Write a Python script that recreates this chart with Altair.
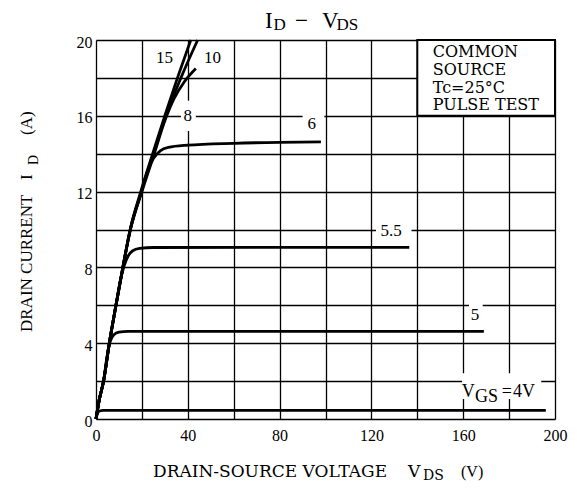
import altair as alt
import pandas as pd

SERIF = "Liberation Serif"
WIDE = "DejaVu Serif"

# ---- curve data (VDS in V, ID in A) per gate voltage ----
VGS = ["15", "10", "8", "6", "5.5", "5", "4"]
VDS_15 = [0, 1.4, 3.3, 5.8, 8.7, 11.7, 14.9, 19.5, 24.7, 30.0, 35.5, 41.3]
ID_15 = [0, 1.0, 2, 4, 6, 8, 10, 12, 14, 16, 18, 20]
VDS_10 = [0, 1.4, 3.3, 5.8, 8.7, 11.7, 14.9, 19.8, 25.1, 30.5, 37.0, 44.3]
ID_10 = [0, 1.0, 2, 4, 6, 8, 10, 12, 14, 16, 18, 20]
VDS_8 = [0, 1.4, 3.3, 5.8, 8.7, 11.7, 15.0, 20.0, 25.4, 29.6, 34.0, 38.5, 43.5]
ID_8 = [0, 1.0, 2, 4, 6, 8, 10, 12, 14, 15.6, 16.9, 17.8, 18.5]
VDS_6 = [0, 1.4, 3.3, 5.8, 8.7, 11.7, 15.0, 19.8, 22.5, 25.0, 28.0, 31.5, 40, 60, 80, 98]
ID_6 = [0, 1.0, 2, 4, 6, 8, 10, 12, 13.1, 13.75, 14.15, 14.33, 14.45, 14.55, 14.6, 14.62]
VDS_55 = [0, 1.4, 3.3, 5.8, 8.7, 10.6, 12.3, 14.0, 16.0, 19.0, 25.0, 136.5]
ID_55 = [0, 1.0, 2, 4, 6, 7.3, 8.1, 8.6, 8.88, 9.0, 9.05, 9.06]
VDS_5 = [0, 1.4, 3.3, 4.8, 6.2, 7.8, 10.0, 14.0, 169]
ID_5 = [0, 1.0, 2, 3.3, 4.1, 4.45, 4.58, 4.62, 4.62]
VDS_4 = [0, 0.7, 1.5, 3, 196]
ID_4 = [0, 0.3, 0.42, 0.45, 0.45]

CURVES = {"15": (VDS_15, ID_15), "10": (VDS_10, ID_10), "8": (VDS_8, ID_8),
          "6": (VDS_6, ID_6), "5.5": (VDS_55, ID_55), "5": (VDS_5, ID_5),
          "4": (VDS_4, ID_4)}

# curve labels
LABEL_TEXT = ["15", "10", "8", "6", "5.5", "5"]
LABEL_X = [29.8, 50.8, 40.0, 94.0, 128.6, 165.1]
LABEL_Y = [19.04, 19.04, 15.98, 15.57, 9.91, 5.47]

# white gaps behind labels (grid interrupted)
GAP_X1 = [37.0, 90.0, 122.0, 162.5, 159.5]
GAP_X2 = [43.5, 99.5, 137.5, 168.5, 194.0]
GAP_Y1 = [15.2, 15.0, 9.45, 4.9, 1.06]
GAP_Y2 = [16.8, 16.3, 10.4, 6.2, 2.42]

rows = []
for v in VGS:
    xs, ys = CURVES[v]
    for i, (a, b) in enumerate(zip(xs, ys)):
        rows.append({"vgs": v, "idx": i, "vds": a, "id": b})
curves_df = pd.DataFrame(rows)
labels_df = pd.DataFrame({"t": LABEL_TEXT, "vds": LABEL_X, "id": LABEL_Y})
gaps_df = pd.DataFrame({"vds": GAP_X1, "vds2": GAP_X2, "id": GAP_Y1, "id2": GAP_Y2})
box_df = pd.DataFrame({"vds": [140], "vds2": [200], "id": [16], "id2": [20]})

xscale = alt.Scale(domain=[0, 200], nice=False, zero=False)
yscale = alt.Scale(domain=[0, 20], nice=False, zero=False)

x_axis = alt.Axis(values=list(range(0, 201, 20)),
                  labelExpr="datum.value % 40 == 0 ? datum.label : ''",
                  grid=True, gridColor="black", gridWidth=1.3, gridOpacity=1,
                  ticks=False, domain=False, labelFont=SERIF, labelFontSize=16,
                  labelColor="black", labelPadding=8, labelFlush=False, title="")
y_axis = alt.Axis(values=list(range(0, 21, 2)),
                  labelExpr="datum.value % 4 == 0 ? datum.label : ''",
                  grid=True, gridColor="black", gridWidth=1.3, gridOpacity=1,
                  ticks=False, domain=False, labelFont=SERIF, labelFontSize=16,
                  labelColor="black", labelPadding=4, labelOffset=2,
                  labelFlush=False, title="")

X = alt.X("vds:Q", scale=xscale, axis=x_axis)
Y = alt.Y("id:Q", scale=yscale, axis=y_axis)

gaps = alt.Chart(gaps_df).mark_rect(color="white").encode(
    x=X, x2="vds2:Q", y=Y, y2="id2:Q")

box = alt.Chart(box_df).mark_rect(fill="white", stroke="black", strokeWidth=2).encode(
    x=X, x2="vds2:Q", y=Y, y2="id2:Q")

lines = alt.Chart(curves_df).mark_line(color="black", strokeWidth=2.8,
                                       interpolate="monotone").encode(
    x=X, y=Y, detail="vgs:N", order="idx:Q")

labels = alt.Chart(labels_df).mark_text(font=SERIF, fontSize=17, color="black",
                                        align="center", baseline="middle").encode(
    x=X, y=Y, text="t:N")

one = pd.DataFrame({"a": [0]})


def ptext(txt, x, y, size, angle=0, align="left", font=SERIF):
    kw = dict(text=txt, font=font, fontSize=size, color="black",
              align=align, baseline="alphabetic")
    if angle:
        kw["angle"] = angle
    return alt.Chart(one).mark_text(**kw).encode(x=alt.value(x), y=alt.value(y))


texts = [
    # title I_D - V_DS
    ptext("I", 169, -11.7, 23),
    ptext("D", 177.5, -10, 17),
    ptext("\u2212", 205.5, -11.7, 23, align="center"),
    ptext("V", 226, -11.7, 23),
    ptext("DS", 240.5, -10, 17),
    # x-axis title
    ptext("DRAIN-SOURCE VOLTAGE", 57, 437, 17, font=WIDE),
    ptext("V", 312, 437, 17, font=WIDE),
    ptext("DS", 327, 439.5, 14, font=WIDE),
    ptext("(V)", 365, 437, 16),
    # y-axis title
    ptext("DRAIN CURRENT", -64.3, 292, 17, angle=270),
    ptext("I", -64.3, 140, 17, angle=270),
    ptext("D", -58, 125, 14, angle=270),
    ptext("(A)", -64.3, 95, 17, angle=270),
    # inset box text
    ptext("COMMON", 336.7, 17.3, 16, font=WIDE),
    ptext("SOURCE", 336.7, 35, 16, font=WIDE),
    ptext("Tc=25\u00b0C", 336.7, 52.7, 16, font=WIDE),
    ptext("PULSE TEST", 336.7, 70, 16, font=WIDE),
    # V_GS = 4V
    ptext("V", 365.7, 357, 18),
    ptext("GS", 379, 362, 18),
    ptext("=", 405.7, 357, 18),
    ptext("4V", 417, 357, 18),
]

chart = alt.layer(gaps, box, lines, labels, *texts).properties(
    width=459, height=379,
    autosize=alt.AutoSizeParams(type="none"),
    padding={"left": 88, "top": 32, "right": 13, "bottom": 64},
).configure_view(stroke="black", strokeWidth=2.2).configure(background="white")

chart.save("out.html", embed_options={"renderer": "svg", "actions": False})
